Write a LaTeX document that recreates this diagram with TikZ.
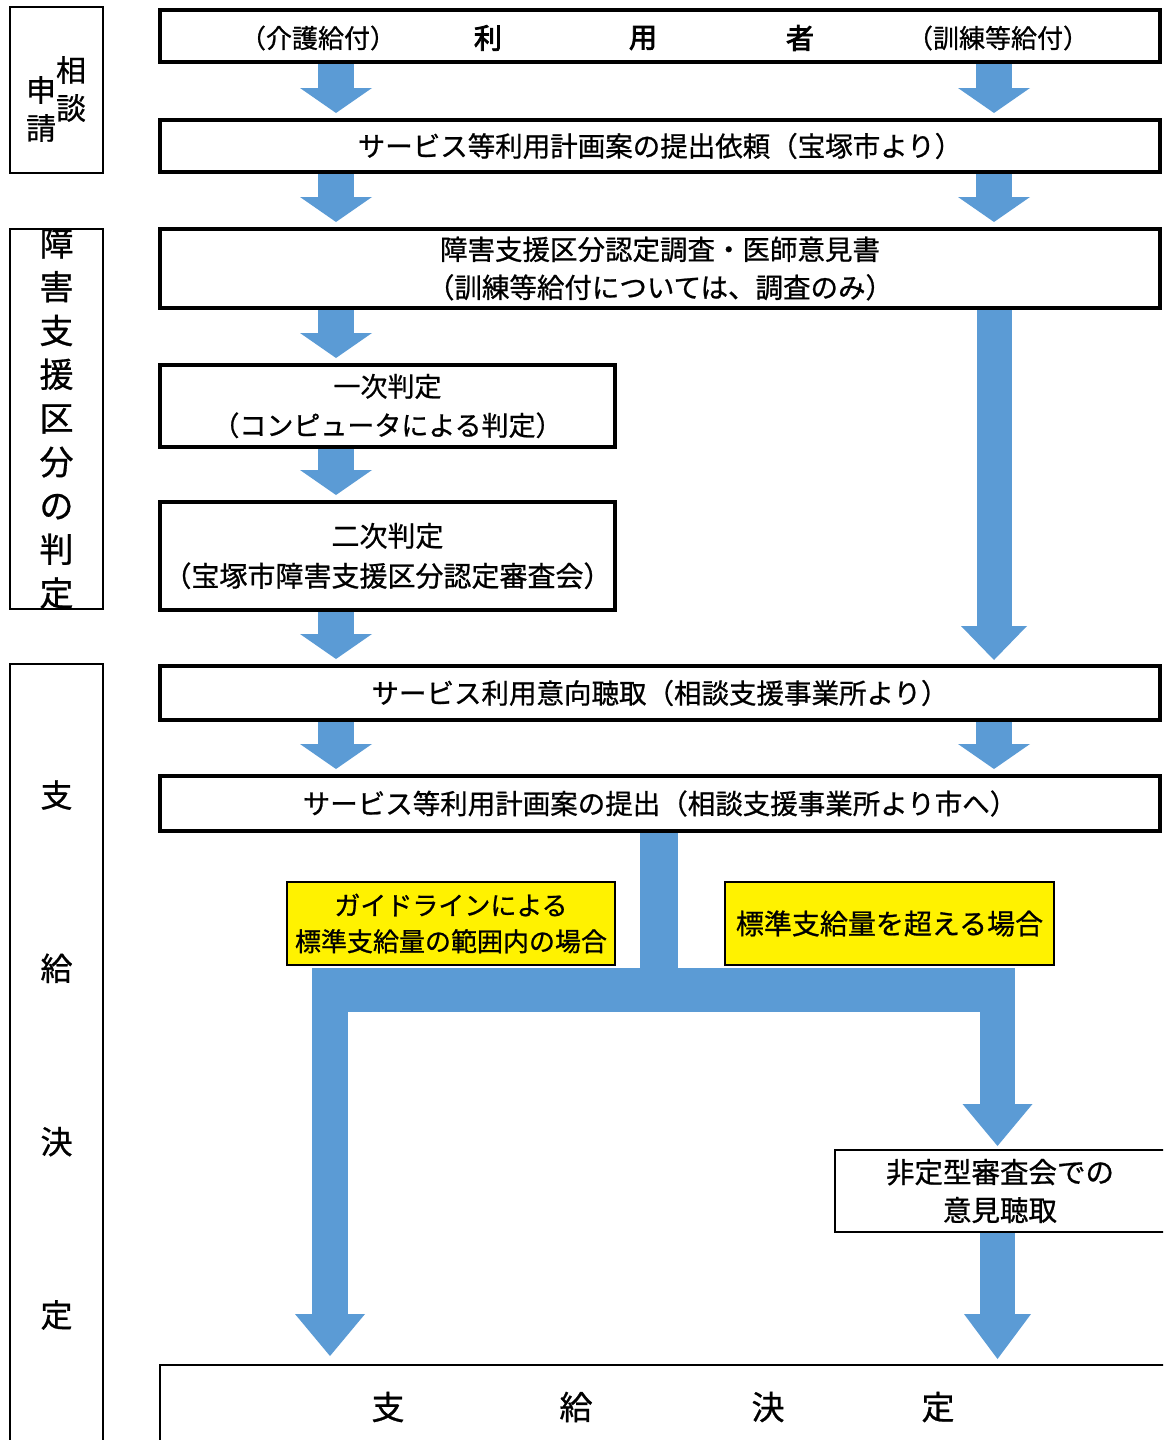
\documentclass[tikz,border=0pt]{standalone}
\usepackage{fontspec}
\setmainfont{Noto Sans CJK JP}[FakeBold=0.8]
\newfontfamily\cjkbold[FakeBold=3]{Noto Sans CJK JP}
\usetikzlibrary{arrows.meta,backgrounds}
\definecolor{ablue}{HTML}{5B9BD5}
\newcommand\myfs[2]{\fontsize{#1}{#2}\selectfont}
\begin{document}
\begin{tikzpicture}[x=1pt,y=-1pt,
  mainbox/.style={draw=black, line width=4pt, fill=white, inner sep=0pt, minimum width=1000pt, align=center, font={\myfs{27.5}{38}}},
  thinbox/.style={draw=black, line width=1.5pt, fill=white, inner sep=0pt, align=center},
  ylbox/.style={draw=black, line width=1.5pt, fill=yellow, inner sep=0pt, align=center},
  txt/.style={inner sep=0pt, align=center},
  barr/.style={draw=ablue, line width=36pt, shorten >=5pt, -{Triangle[length=25pt,width=72pt,line width=0pt]}},
  longarr/.style={draw=ablue, line width=35pt, shorten >=4pt, -{Triangle[length=34pt,width=66pt,line width=0pt]}},
  bigarr/.style={draw=ablue, line width=36pt, -{Triangle[length=42pt,width=70pt,line width=0pt]}},
  shaft/.style={draw=ablue}
]
\useasboundingbox (0,0) rectangle (1163,1440);
\clip (0,0) rectangle (1163,1440);

% column references
\coordinate (colL) at (336,0);
\coordinate (colR) at (994,0);
\coordinate (colSL) at (330,0);
\coordinate (colSR) at (997.5,0);

% left label boxes
\node[thinbox, minimum width=93pt, minimum height=166pt] (L1) at (56.5,90) {};
\node[txt, font={\myfs{30}{38}}] (L1a) at (71,89) {相\\談};
\node[txt, font={\myfs{30}{38}}] (L1b) at (41,109) {申\\請};

\node[thinbox, minimum width=93pt, minimum height=380pt] (L2) at (56.5,419) {};
\begin{scope}
\clip (L2.south west) rectangle (L2.north east);
\node[txt, font={\myfs{34}{43.75}}] (L2t) at (56.5,418) {障\\害\\支\\援\\区\\分\\の\\判\\定};
\end{scope}

\node[thinbox, minimum width=93pt, minimum height=786pt] (L3) at (56.5,1057) {};
\node[txt, font={\myfs{32}{173.3}}] (L3t) at (56.5,1055) {支\\給\\決\\定};

% main flow boxes
\node[mainbox, minimum height=52pt] (A) at (660,36) {};
\node[txt, font={\myfs{26}{30}}] (A1) at (318,38) {（介護給付）};
\node[txt, font={\cjkbold\myfs{28}{30}}] (A2) at (488,38) {利};
\node[txt, font={\cjkbold\myfs{28}{30}}] (A3) at (643,38) {用};
\node[txt, font={\cjkbold\myfs{28}{30}}] (A4) at (800,38) {者};
\node[txt, font={\myfs{26}{30}}] (A5) at (998,38) {（訓練等給付）};

\node[mainbox, minimum height=52pt] (B) at (660,146) {サービス等利用計画案の提出依頼（宝塚市より）};
\node[mainbox, minimum height=79pt] (C) at (660,268.5) {障害支援区分認定調査・医師意見書\\（訓練等給付については、調査のみ）};
\node[mainbox, minimum width=455pt, minimum height=82pt, font={\myfs{27}{39}}] (D) at (387.5,406) {一次判定\\（コンピュータによる判定）};
\node[mainbox, minimum width=455pt, minimum height=108pt, font={\myfs{28}{40}}] (E) at (387.5,556) {二次判定\\（宝塚市障害支援区分認定審査会）};
\node[mainbox, minimum height=54pt] (F) at (660,693) {サービス利用意向聴取（相談支援事業所より）};
\node[mainbox, minimum height=55pt] (G) at (660,803.5) {サービス等利用計画案の提出（相談支援事業所より市へ）};

\node[ylbox, minimum width=328pt, minimum height=83pt, font={\myfs{26}{36}}] (Y1) at (451,923.5) {ガイドラインによる\\標準支給量の範囲内の場合};
\node[ylbox, minimum width=329pt, minimum height=83pt, font={\myfs{28}{36}}] (Y2) at (889.5,923.5) {標準支給量を超える場合};

\node[thinbox, line width=2pt, minimum width=330pt, minimum height=82pt, font={\myfs{28.5}{38}}] (H) at (1000,1191) {非定型審査会での\\意見聴取};

\node[thinbox, line width=2pt, minimum width=1010pt, minimum height=85pt] (I) at (665,1407.5) {};
\node[txt, font={\myfs{33}{36}}] (I1) at (388,1407) {支};
\node[txt, font={\myfs{33}{36}}] (I2) at (576,1407) {給};
\node[txt, font={\myfs{33}{36}}] (I3) at (768,1407) {決};
\node[txt, font={\myfs{33}{36}}] (I4) at (938,1407) {定};

% split structure coordinates
\coordinate (trunkEnd) at (659,990);
\coordinate (barL) at (312,990);
\coordinate (barR) at (1015,990);
\coordinate (sL) at (330,968);
\coordinate (sR) at (997.5,968);

\begin{scope}[on background layer]
\draw[barr] (A.south -| colL) -- (B.north -| colL);
\draw[barr] (A.south -| colR) -- (B.north -| colR);
\draw[barr] (B.south -| colL) -- (C.north -| colL);
\draw[barr] (B.south -| colR) -- (C.north -| colR);
\draw[barr] (C.south -| colL) -- (D.north -| colL);
\draw[barr] (D.south -| colL) -- (E.north -| colL);
\draw[barr] (E.south -| colL) -- (F.north -| colL);
\draw[longarr] (C.south -| colR) -- (F.north -| colR);
\draw[barr] (F.south -| colL) -- (G.north -| colL);
\draw[barr] (F.south -| colR) -- (G.north -| colR);
\draw[shaft, line width=38pt] (G.south -| trunkEnd) -- (trunkEnd);
\draw[shaft, line width=44pt] (barL) -- (barR);
\draw[bigarr, shorten >=8pt] (sL) -- (I.north -| colSL);
\draw[bigarr, line width=35pt, shorten >=3pt] (sR) -- (H.north -| colSR);
\draw[bigarr, line width=35pt, shorten >=5pt, -{Triangle[length=45pt,width=67pt,line width=0pt]}] (H.south -| colSR) -- (I.north -| colSR);
\end{scope}
\end{tikzpicture}
\end{document}
